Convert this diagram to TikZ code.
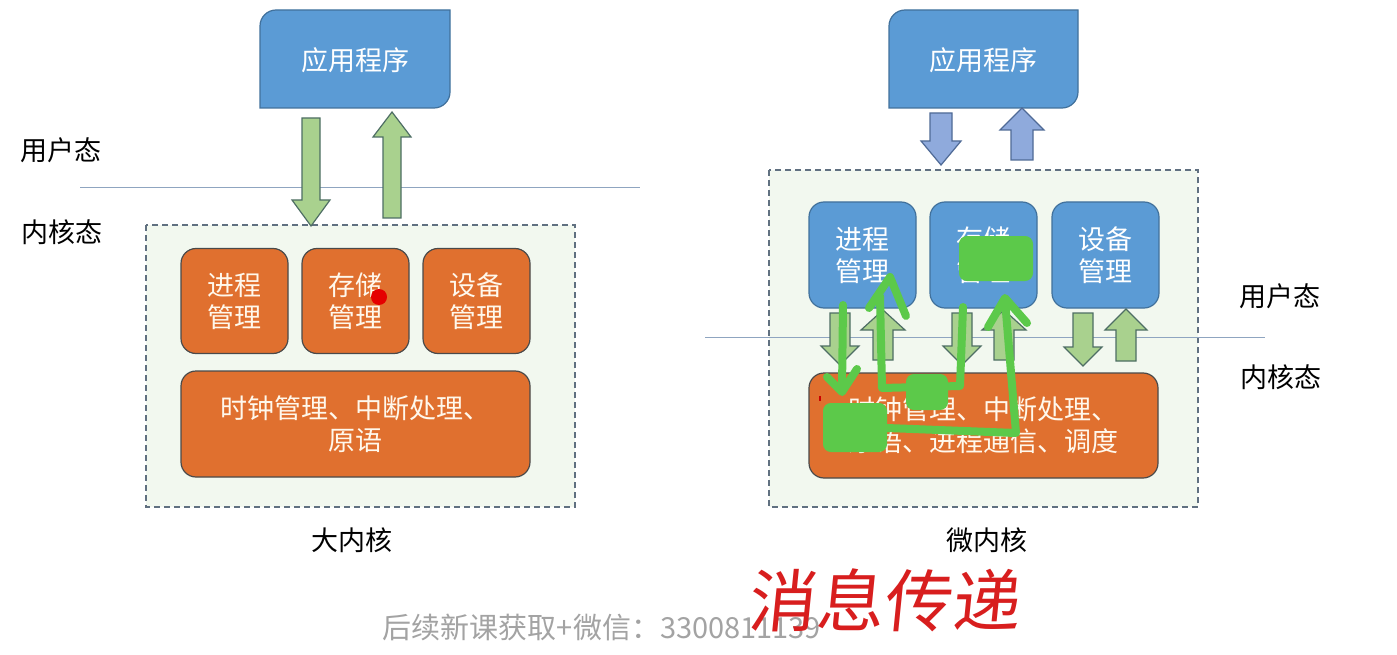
\documentclass[tikz,border=0pt]{standalone}
\usepackage{fontspec}
\setmainfont{Noto Sans CJK SC}
\definecolor{appblue}{HTML}{5B9BD5}
\definecolor{appedge}{HTML}{41719C}
\definecolor{orangeC}{HTML}{E0702F}
\definecolor{orangeE}{HTML}{4A4A4A}
\definecolor{garrow}{HTML}{A9D18E}
\definecolor{garrowE}{HTML}{4E6E64}
\definecolor{barrow}{HTML}{8FAADC}
\definecolor{barrowE}{HTML}{4F6A96}
\definecolor{kernfill}{HTML}{F2F8EF}
\definecolor{kernedge}{HTML}{607080}
\definecolor{sepline}{HTML}{8FA5C0}
\definecolor{boxtext}{HTML}{FFF8EC}
\definecolor{marker}{HTML}{5CC94A}
\definecolor{inkred}{HTML}{D81E1E}
\definecolor{wmgray}{HTML}{A3A3A3}
% block arrows: #1 cx, #2 start y, #3 tip y, #4 half shaft, #5 half head, #6 head length, #7 style
\newcommand\blockdown[7]{%
  \draw[#7] ({#1-#4},#2) -- ({#1+#4},#2) -- ({#1+#4},{#3-#6}) -- ({#1+#5},{#3-#6})
    -- (#1,#3) -- ({#1-#5},{#3-#6}) -- ({#1-#4},{#3-#6}) -- cycle;}
\newcommand\blockup[7]{%
  \draw[#7] ({#1-#4},#2) -- ({#1+#4},#2) -- ({#1+#4},{#3+#6}) -- ({#1+#5},{#3+#6})
    -- (#1,#3) -- ({#1-#5},{#3+#6}) -- ({#1-#4},{#3+#6}) -- cycle;}
\begin{document}
\begin{tikzpicture}[x=1pt,y=-1pt,
  lbl/.style={font=\fontsize{27}{32}\selectfont, text=black, inner sep=0pt},
  apptxt/.style={font=\fontsize{27}{32}\selectfont, text=white, inner sep=0pt},
  appshape/.style={fill=appblue, draw=appedge, line width=1.2pt},
  obox/.style={draw=orangeE, line width=1.2pt, fill=orangeC, rounded corners=15pt,
     text=boxtext, align=center, inner sep=0pt, font=\fontsize{27}{32}\selectfont},
  bbox/.style={draw=appedge, line width=1.2pt, fill=appblue, rounded corners=15pt,
     text=white, align=center, inner sep=0pt, font=\fontsize{27}{32}\selectfont},
  kern/.style={fill=kernfill, draw=kernedge, line width=1.3pt, dash pattern=on 6pt off 4pt},
  garr/.style={fill=garrow, draw=garrowE, line width=1.2pt, line join=miter},
  barr/.style={fill=barrow, draw=barrowE, line width=1.2pt, line join=miter},
  sep/.style={draw=sepline, line width=1pt},
  ink/.style={draw=marker, line width=8pt, line cap=round, line join=round},
  blob/.style={fill=marker, draw=marker, line width=4pt, rounded corners=6pt}
]
\useasboundingbox (0,0) rectangle (1397,655);
\fill[white] (0,0) rectangle (1397,655);

% ===== Left: monolithic kernel =====
\draw[appshape] (260,108) -- (260,26) .. controls (260,17.2) and (267.2,10) .. (276,10)
  -- (450,10) -- (450,92) .. controls (450,100.8) and (442.8,108) .. (434,108) -- cycle;
\node[apptxt] (appL) at (355,60) {应用程序};

\draw[sep] (80,188) -- (640,188);
\node[lbl] (userL) at (61,150) {用户态};
\node[lbl] (kernL) at (62,232) {内核态};

\draw[kern] (146,225) rectangle (575,507);
\blockdown{311}{118}{226}{9}{19}{26}{garr}
\blockup{392}{218}{112}{9}{19}{25}{garr}

\node[obox, minimum width=107pt, minimum height=105pt] (procL) at (234.5,301) {进程\\管理};
\node[obox, minimum width=107pt, minimum height=105pt] (memL) at (355.5,301) {存储\\管理};
\node[obox, minimum width=107pt, minimum height=105pt] (devL) at (476.5,301) {设备\\管理};
\node[obox, minimum width=349pt, minimum height=106pt] (coreL) at (355.5,424) {时钟管理、中断处理、\\原语};
\node[lbl] (capL) at (352,540) {大内核};

\fill[red!90!black] (379,297) circle (8);

% ===== Right: microkernel =====
\draw[appshape] (889,108) -- (889,26) .. controls (889,17.2) and (896.2,10) .. (905,10)
  -- (1078,10) -- (1078,92) .. controls (1078,100.8) and (1070.8,108) .. (1062,108) -- cycle;
\node[apptxt] (appR) at (983.5,60) {应用程序};

\draw[kern] (769,170) rectangle (1198,507);
\draw[sep] (705,337) -- (1265,337);
\node[lbl] (userR) at (1280,296) {用户态};
\node[lbl] (kernR) at (1281,377) {内核态};

\blockdown{941}{113}{165}{11}{20}{24}{barr}
\blockup{1022}{160}{108}{11}{22}{22}{barr}

\node[bbox, minimum width=107pt, minimum height=106pt] (procR) at (862.5,255) {进程\\管理};
\node[bbox, minimum width=107pt, minimum height=106pt] (memR) at (983.5,255) {存储\\管理};
\node[bbox, minimum width=107pt, minimum height=106pt] (devR) at (1105.5,255) {设备\\管理};

\blockdown{840}{313}{365}{10}{19}{19}{garr}
\blockup{883}{360}{310}{10}{22}{20}{garr}
\blockdown{962}{313}{365}{10}{19}{19}{garr}
\blockup{1004}{360}{310}{10}{22}{20}{garr}
\blockdown{1083}{313}{366}{10}{19}{19}{garr}
\blockup{1126}{361}{309}{10}{21}{21}{garr}

\node[obox, minimum width=349pt, minimum height=105pt] (coreR) at (983.5,425.5) {时钟管理、中断处理、\\原语、进程通信、调度};
\node[lbl] (capR) at (987,540) {微内核};

% ===== green hand-drawn marks =====
\draw[ink] (843,305) -- (842,390);
\draw[ink] (827,377) -- (842,392) -- (857,369);
\draw[ink] (880,296) -- (882,388) -- (960,386) -- (963,307);
\draw[ink] (869,308) -- (890,277) -- (906,316);
\draw[ink] (887,428) -- (1016,433) -- (1005,300);
\draw[ink] (988,327) -- (1005,298) -- (1027,323);
\draw[blob] (825,405) rectangle (885,450);
\draw[blob] (908,376) rectangle (946,408);
\draw[blob] (961,238) rectangle (1031,279);
\fill[red!80!black] (819,396) rectangle (821,401);

% ===== bottom annotations =====
\node[font=\fontsize{29}{29}\selectfont, text=wmgray, inner sep=0pt] (wm) at (602,627) {后续新课获取+微信：3300811139};
\node[font=\fontsize{68}{68}\selectfont, text=inkred, inner sep=0pt, xslant=0.1] (note) at (886,600) {消息传递};
\end{tikzpicture}
\end{document}
